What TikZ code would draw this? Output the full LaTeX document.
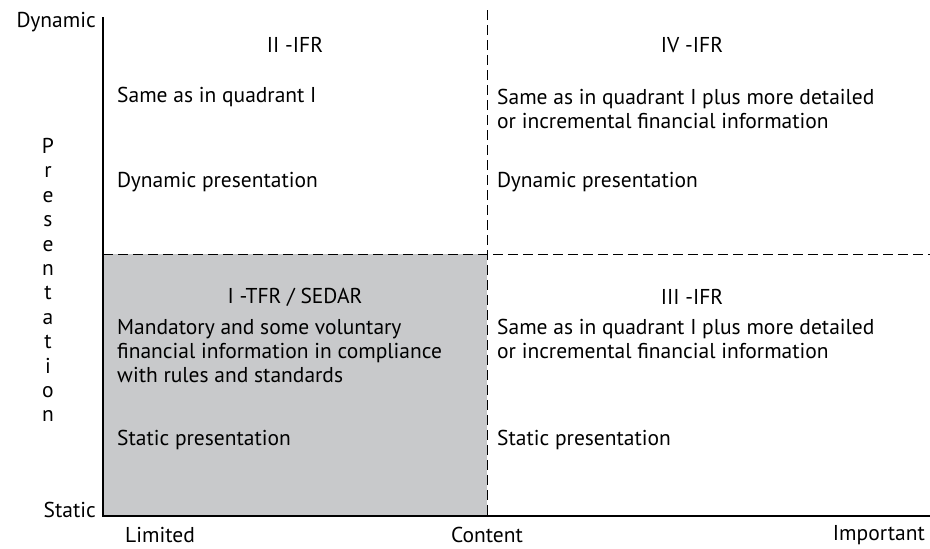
\documentclass[tikz,border=0pt]{standalone}
\usepackage{fontspec}
\setmainfont{PT Sans}
\usepackage{tikz}
\usetikzlibrary{positioning}

\tikzset{
  quadtext/.style={anchor=west, align=left, inner sep=0pt},
  quadtitle/.style={inner sep=0pt},
  axistext/.style={inner sep=0pt},
  divider/.style={dashed, dash pattern=on 10pt off 5pt, line width=0.9pt}
}

\begin{document}
\begin{tikzpicture}[x=1pt,y=-1pt,font=\fontsize{21.5}{24}\selectfont]
\useasboundingbox (0,0) rectangle (930,549);
% shaded quadrant I
\fill[fill={rgb,255:red,200;green,201;blue,203}] (103,254) rectangle (487,516);
% dividers
\draw[divider] (487,10) -- (487,516);
\draw[divider] (103,254) -- (930,254);
% axes
\coordinate (top) at (103,17);
\coordinate (origin) at (103,516);
\coordinate (right) at (930,516);
\draw[line width=2pt] (top) -- (origin) -- (right);

\node[axistext, anchor=east] (dyn) at (96,22) {Dynamic};
\node[axistext, anchor=east] (stat) at (96,510) {Static};
\node[axistext] (lim) at (160,535) {Limited};
\node[axistext] (cont) at (487,535) {Content};
\node[axistext, anchor=east] (imp) at (925,535) {Important};
\node[axistext, align=center, font=\fontsize{21.5}{24.4}\selectfont] (pres) at (48,280)
  {P\\r\\e\\s\\e\\n\\t\\a\\t\\i\\o\\n};

% quadrant II
\node[quadtitle] (q2) at (295,45) {II -IFR};
\node[quadtext] (q2a) at (117,97) {Same as in quadrant I};
\node[quadtext] (q2b) at (117,182) {Dynamic presentation};
% quadrant IV
\node[quadtitle] (q4) at (692,45) {IV -IFR};
\node[quadtext] (q4a) at (497,109) {Same as in quadrant I plus more detailed\\or incremental financial information};
\node[quadtext] (q4b) at (497,182) {Dynamic presentation};
% quadrant I
\node[quadtitle] (q1) at (295,297) {I -TFR / SEDAR};
\node[quadtext] (q1a) at (117,351) {Mandatory and some voluntary\\financial information in compliance\\with rules and standards};
\node[quadtext] (q1b) at (117,440) {Static presentation};
% quadrant III
\node[quadtitle] (q3) at (692,297) {III -IFR};
\node[quadtext] (q3a) at (497,339) {Same as in quadrant I plus more detailed\\or incremental financial information};
\node[quadtext] (q3b) at (497,440) {Static presentation};
\end{tikzpicture}
\end{document}
